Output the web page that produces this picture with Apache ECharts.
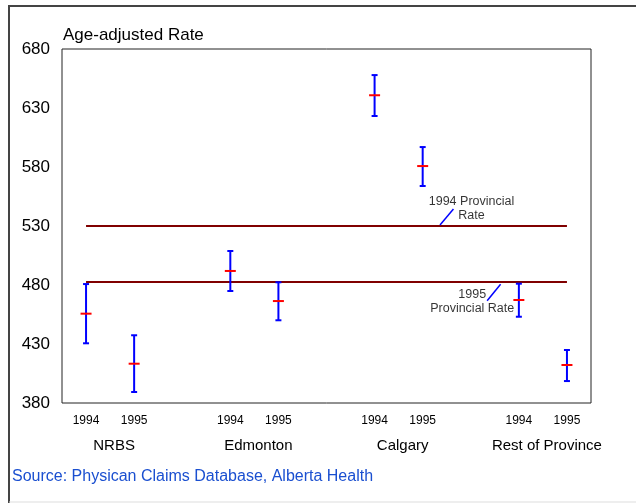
<!DOCTYPE html>
<html>
<head>
<meta charset="utf-8">
<script src="https://cdn.jsdelivr.net/npm/echarts@6/dist/echarts.min.js"></script>
<style>
    html, body { margin: 0; padding: 0; background: #fff; }
    #chart { width: 636px; height: 503px; }
</style>
</head>
<body>
<div id="chart"></div>
<script>
// 数据
const yearLabels = ['1994', '1995', '', '1994', '1995', '', '1994', '1995', '', '1994', '1995'];
const groupLabels = ['', 'NRBS', '', '', 'Edmonton', '', '', 'Calgary', '', '', 'Rest of Province', ''];
const yTicks = [380, 430, 480, 530, 580, 630, 680];

const rate1994 = [455.7, 491.9, 640.8, 467.3];
const low1994 = [430.6, 474.9, 623.2, 453.1];
const high1994 = [480.8, 508.8, 657.9, 481.1];
const rate1995 = [413.3, 466.4, 580.8, 412.2];
const low1995 = [389.3, 450.1, 563.9, 398.6];
const high1995 = [437.4, 482.3, 596.9, 424.9];

const provincial1994 = 530;
const provincial1995 = 482.5;

// 注释
const noteLabels = ['1994 Provincial\nRate', '1995\nProvincial Rate'];
const noteX = [8.015, 8.03];
const noteY = [544.5, 465.8];
const leader1994 = [[7.36, 530.8], [7.64, 544.4]];
const leader1995 = [[8.34, 466.7], [8.62, 480.6]];

const colors = {
    bar: '#0000ff',
    mean: '#ff0000',
    line: '#800000',
    source: '#1a4fd0'
};

// 误差棒数据 [x, low, high, mean]
const errorData = [];
rate1994.forEach((v, g) => {
    errorData.push([g * 3, low1994[g], high1994[g], v]);
    errorData.push([g * 3 + 1, low1995[g], high1995[g], rate1995[g]]);
});

const lastIndex = yearLabels.length - 1;

function renderErrorBar(params, api) {
    const x = api.value(0);
    const pLow = api.coord([x, api.value(1)]);
    const pHigh = api.coord([x, api.value(2)]);
    const pMean = api.coord([x, api.value(3)]);
    const cap = 3;
    const tick = 5.5;
    const barStyle = { stroke: colors.bar, lineWidth: 2 };
    return {
        type: 'group',
        children: [
            { type: 'line', shape: { x1: pLow[0], y1: pLow[1], x2: pHigh[0], y2: pHigh[1] }, style: barStyle },
            { type: 'line', shape: { x1: pHigh[0] - cap, y1: pHigh[1], x2: pHigh[0] + cap, y2: pHigh[1] }, style: barStyle },
            { type: 'line', shape: { x1: pLow[0] - cap, y1: pLow[1], x2: pLow[0] + cap, y2: pLow[1] }, style: barStyle },
            { type: 'line', shape: { x1: pMean[0] - tick, y1: pMean[1], x2: pMean[0] + tick, y2: pMean[1] }, style: { stroke: colors.mean, lineWidth: 2 } }
        ]
    };
}

const chart = echarts.init(document.getElementById('chart'));

const option = {
    animation: false,
    backgroundColor: '#fff',
    textStyle: { fontFamily: 'Liberation Sans, Arial, sans-serif', color: '#000' },
    title: [{
        text: 'Age-adjusted Rate',
        left: 58,
        top: 22,
        textStyle: { fontSize: 17, fontWeight: 'normal', color: '#000' }
    }, {
        text: 'Source: Physican Claims Database, Alberta Health',
        left: 7,
        top: 464,
        textStyle: { fontSize: 16, fontWeight: 'normal', color: colors.source }
    }],
    graphic: [{
        type: 'polyline',
        shape: { points: [[9, 503], [9, 6], [640, 6]] },
        style: { stroke: '#444', lineWidth: 2, fill: null }
    }, {
        type: 'line',
        shape: { x1: 9, y1: 502, x2: 640, y2: 502 },
        style: { stroke: '#ddd', lineWidth: 1 }
    }],
    grid: {
        left: 62,
        right: 45,
        top: 49,
        bottom: 100,
        show: true,
        borderColor: '#222',
        borderWidth: 1,
        backgroundColor: 'transparent'
    },
    xAxis: [{
        type: 'category',
        data: yearLabels,
        boundaryGap: true,
        position: 'bottom',
        axisLine: { show: false },
        axisTick: { show: false },
        axisLabel: { interval: 0, fontSize: 12, color: '#000', margin: 12 }
    }, {
        type: 'category',
        data: groupLabels,
        boundaryGap: false,
        position: 'bottom',
        axisLine: { show: false },
        axisTick: { show: false },
        axisLabel: { interval: 0, fontSize: 15, color: '#000', margin: 35, padding: [0, 0, 0, 8] }
    }, {
        type: 'value',
        min: -0.5,
        max: 10.5,
        show: false
    }],
    yAxis: {
        type: 'value',
        min: yTicks[0],
        max: yTicks[yTicks.length - 1],
        interval: 50,
        axisLine: { show: false },
        axisTick: { show: false },
        splitLine: { show: false },
        axisLabel: { fontSize: 17, color: '#000', margin: 12 }
    },
    series: [{
        name: '1994 Provincial Rate',
        type: 'line',
        xAxisIndex: 0,
        data: [[0, provincial1994], [lastIndex, provincial1994]],
        symbol: 'none',
        lineStyle: { color: colors.line, width: 2 },
        silent: true
    }, {
        name: '1995 Provincial Rate',
        type: 'line',
        xAxisIndex: 0,
        data: [[0, provincial1995], [lastIndex, provincial1995]],
        symbol: 'none',
        lineStyle: { color: colors.line, width: 2 },
        silent: true
    }, {
        name: 'Age-adjusted Rate',
        type: 'custom',
        xAxisIndex: 0,
        renderItem: renderErrorBar,
        encode: { x: 0, y: [1, 2, 3] },
        data: errorData,
        z: 5
    }, {
        type: 'line',
        xAxisIndex: 2,
        data: leader1994,
        symbol: 'none',
        lineStyle: { color: colors.bar, width: 1.5 },
        silent: true
    }, {
        type: 'line',
        xAxisIndex: 2,
        data: leader1995,
        symbol: 'none',
        lineStyle: { color: colors.bar, width: 1.5 },
        silent: true
    }, {
        type: 'scatter',
        xAxisIndex: 2,
        symbolSize: 0,
        silent: true,
        data: noteLabels.map((t, i) => ({ value: [noteX[i], noteY[i]], name: t })),
        label: {
            show: true,
            position: 'inside',
            formatter: (p) => p.name,
            fontSize: 12.5,
            lineHeight: 14,
            align: 'center',
            color: '#000'
        }
    }]
};

chart.setOption(option);
</script>
</body>
</html>
